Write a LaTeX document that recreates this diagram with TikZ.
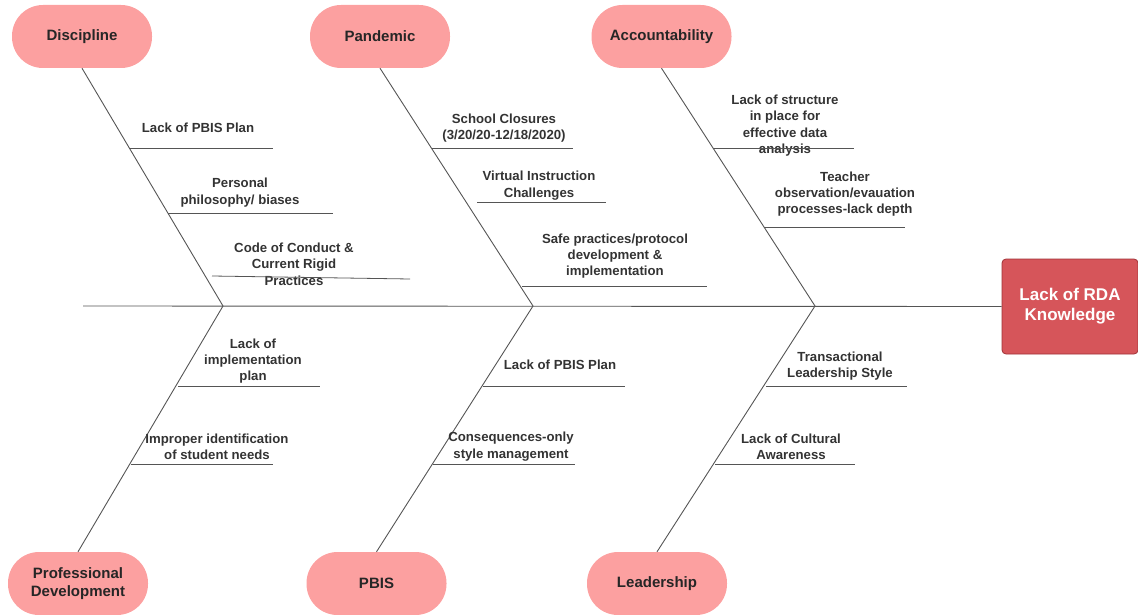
\documentclass[tikz,border=0pt]{standalone}
\usepackage{fontspec}
\setmainfont{Liberation Sans}
\usetikzlibrary{calc}
\definecolor{ovalfill}{RGB}{252,160,160}
\definecolor{effectfill}{RGB}{214,85,90}
\definecolor{effectdraw}{RGB}{160,50,55}
\definecolor{txt}{RGB}{51,51,51}
\definecolor{bone}{RGB}{85,85,85}
\tikzset{
  cat/.style={fill=ovalfill, draw=none, rounded corners=31pt, minimum width=140pt, minimum height=63pt,
    align=center, text=black!85, font=\fontsize{15}{18}\selectfont\bfseries, inner sep=0pt},
  cause/.style={align=center, text=txt, font=\fontsize{13.2}{16.4}\selectfont\bfseries, inner sep=0pt},
  boneline/.style={draw=bone, line width=0.9pt},
  subline/.style={draw=bone, line width=0.8pt}
}
\begin{document}
\begin{tikzpicture}[x=1pt,y=-1pt]
\useasboundingbox (0,0) rectangle (1138,615);
% effect
\node[fill=effectfill, draw=effectdraw, line width=0.8pt, rounded corners=4pt, minimum width=136pt, minimum height=95pt,
  text=white, align=center, font=\fontsize{17}{20}\selectfont\bfseries, inner sep=0pt] (effect) at (1070,306.5) {Lack of RDA\\Knowledge};
% category ovals
\node[cat] (disc) at (82,36.5) {Discipline};
\node[cat] (pand) at (380,36.5) {Pandemic};
\node[cat] (acct) at (661.5,36.5) {Accountability};
\node[cat] (prof) at (78,583.5) {Professional\\Development};
\node[cat] (pbis) at (376.5,583.5) {PBIS};
\node[cat] (lead) at (657,583.5) {Leadership};
% spine
\coordinate (tail) at (83,306);
\coordinate (j1) at (223,306);
\coordinate (j2) at (533,306);
\coordinate (j3) at (815,306);
\draw[boneline] (tail) -- (effect.west);
\draw[boneline] (disc.south) -- (j1) -- (prof.north);
\draw[boneline] (pand.south) -- (j2) -- (pbis.north);
\draw[boneline] (acct.south) -- (j3) -- (lead.north);
% causes
\node[cause] (d1) at (198,128) {Lack of PBIS Plan};
\node[cause] (d2) at (240,192.5) {Personal\\philosophy/ biases};
\node[cause] (d3) at (294,264) {Code of Conduct \&\\Current Rigid\\Practices};
\node[cause] (p1) at (504,128) {School Closures\\(3/20/20-12/18/2020)};
\node[cause] (p2) at (539,185.5) {Virtual Instruction\\Challenges};
\node[cause] (p3) at (615,256) {Safe practices/protocol\\development \&\\implementation};
\node[cause] (a1) at (785,125.5) {Lack of structure\\in place for\\effective data\\analysis};
\node[cause] (a2) at (845,194) {Teacher\\observation/evauation\\processes-lack depth};
\node[cause] (f1) at (253,361) {Lack of\\implementation\\plan};
\node[cause] (f2) at (217,446.5) {Improper identification\\of student needs};
\node[cause] (b1) at (560,365) {Lack of PBIS Plan};
\node[cause] (b2) at (511,446.5) {Consequences-only\\style management};
\node[cause] (l1) at (840,366) {Transactional\\Leadership Style};
\node[cause] (l2) at (791,446.5) {Lack of Cultural\\Awareness};
% sub-bone lines
\coordinate (d1s) at (130,148); \coordinate (d1e) at (273,148);
\coordinate (d2s) at (168,213); \coordinate (d2e) at (333,213);
\coordinate (d3s) at (212,276); \coordinate (d3e) at (410,279);
\coordinate (p1s) at (432,148); \coordinate (p1e) at (573,148);
\coordinate (p2s) at (477,202); \coordinate (p2e) at (606,202);
\coordinate (p3s) at (522,286); \coordinate (p3e) at (707,286);
\coordinate (a1s) at (713,148); \coordinate (a1e) at (854,148);
\coordinate (a2s) at (764,227); \coordinate (a2e) at (905,227);
\coordinate (f1s) at (178,386); \coordinate (f1e) at (320,386);
\coordinate (f2s) at (131,464); \coordinate (f2e) at (273,464);
\coordinate (b1s) at (483,386); \coordinate (b1e) at (625,386);
\coordinate (b2s) at (433,464); \coordinate (b2e) at (575,464);
\coordinate (l1s) at (766,386); \coordinate (l1e) at (907,386);
\coordinate (l2s) at (715,464); \coordinate (l2e) at (855,464);
\foreach \n in {d1,d2,d3,p1,p2,p3,a1,a2,f1,f2,b1,b2,l1,l2}{
  \draw[subline] (\n s) -- (\n e);
}
\end{tikzpicture}
\end{document}
